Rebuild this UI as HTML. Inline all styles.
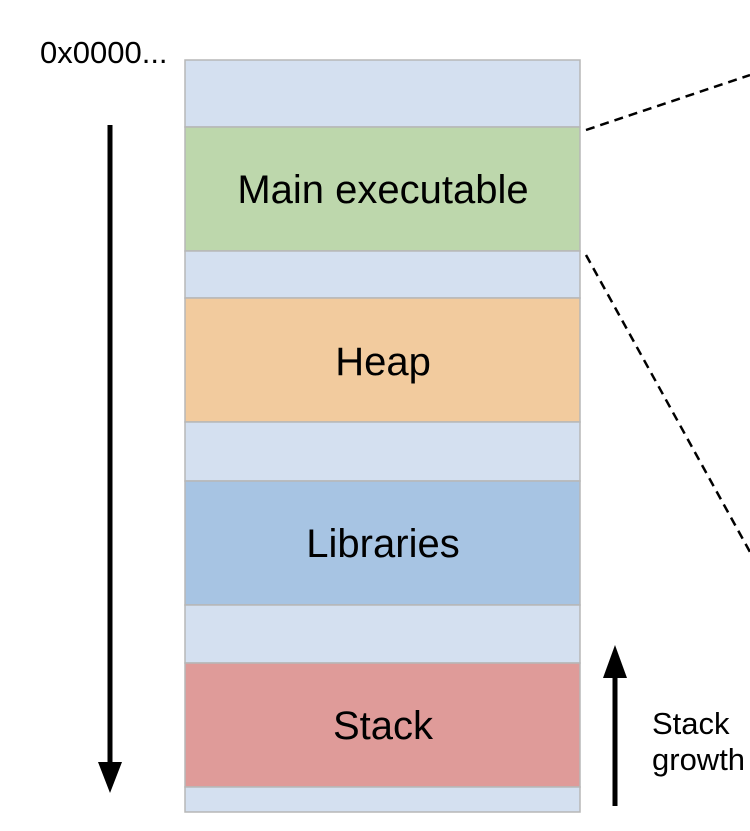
<!DOCTYPE html>
<html><head><meta charset="utf-8"><style>
body{margin:0;background:#fff;width:750px;height:826px;overflow:hidden}
</style></head><body>
<svg width="750" height="826" xmlns="http://www.w3.org/2000/svg" font-family="Liberation Sans, Arial, sans-serif">
<g stroke="#b7b7b7" stroke-width="1.5">
<rect x="185" y="60" width="395" height="67" fill="#d4e0f0"/>
<rect x="185" y="127" width="395" height="124" fill="#bdd7ac"/>
<rect x="185" y="251" width="395" height="47" fill="#d4e0f0"/>
<rect x="185" y="298" width="395" height="124" fill="#f2cb9e"/>
<rect x="185" y="422" width="395" height="59" fill="#d4e0f0"/>
<rect x="185" y="481" width="395" height="124" fill="#a7c4e3"/>
<rect x="185" y="605" width="395" height="58" fill="#d4e0f0"/>
<rect x="185" y="663" width="395" height="124" fill="#df9b99"/>
<rect x="185" y="787" width="395" height="25" fill="#d4e0f0"/>
</g>
<g font-size="40" text-anchor="middle" fill="#000">
<text x="383" y="203">Main executable</text>
<text x="383" y="375">Heap</text>
<text x="383" y="557">Libraries</text>
<text x="383" y="739">Stack</text>
</g>
<text x="40" y="63" font-size="31">0x0000...</text>
<line x1="110" y1="125" x2="110" y2="765" stroke="#000" stroke-width="5"/>
<polygon points="98,762 122,762 110,793" fill="#000"/>
<line x1="615" y1="806" x2="615" y2="675" stroke="#000" stroke-width="5"/>
<polygon points="603,678 627,678 615,645" fill="#000"/>
<text x="652" y="734" font-size="31">Stack</text>
<text x="652" y="770" font-size="31">growth</text>
<g stroke="#000" stroke-width="2.5" stroke-dasharray="9,6">
<line x1="586" y1="130" x2="750" y2="75"/>
<line x1="586" y1="255" x2="750" y2="552"/>
</g>
</svg>
</body></html>
